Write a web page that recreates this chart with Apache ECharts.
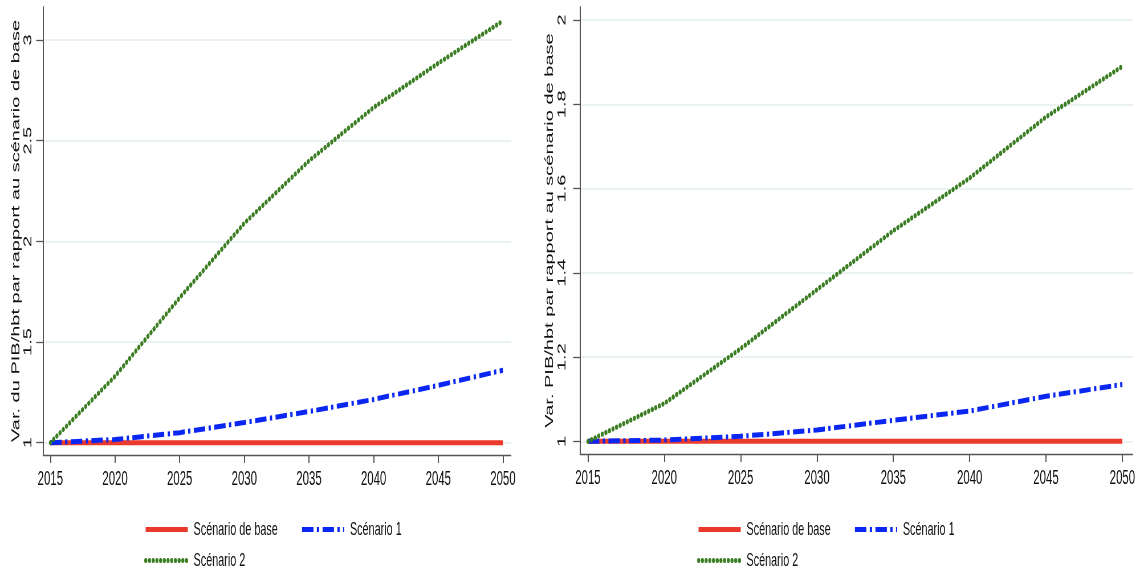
<!DOCTYPE html>
<html>
<head>
<meta charset="utf-8">
<title>PIB/hbt scénarios</title>
<script src="https://cdn.jsdelivr.net/npm/echarts@6/dist/echarts.min.js"></script>
<style>
    html, body {margin: 0; padding: 0; background: #fff; overflow: hidden;}
    /* la figure d'origine est compressée horizontalement */
    #main {width: 2000px; height: 567px; transform: scaleX(0.57); transform-origin: 0 0;}
</style>
</head>
<body>
<div id="main"></div>
<script>
// données
const years = [2015, 2020, 2025, 2030, 2035, 2040, 2045, 2050]
const xTicks = [2015, 2020, 2025, 2030, 2035, 2040, 2045, 2050]

// panneau gauche
const baseLeft = [1, 1, 1, 1, 1, 1, 1, 1]
const scen1Left = [1, 1.016, 1.05, 1.10, 1.155, 1.215, 1.285, 1.36]
const scen2Left = [1, 1.33, 1.72, 2.09, 2.40, 2.665, 2.885, 3.095]
const yTicksLeft = [1, 1.5, 2, 2.5, 3]

// panneau droit
const baseRight = [1, 1, 1, 1, 1, 1, 1, 1]
const scen1Right = [1, 1.003, 1.012, 1.027, 1.05, 1.072, 1.107, 1.135]
const scen2Right = [1, 1.09, 1.22, 1.36, 1.50, 1.625, 1.77, 1.89]
const yTicksRight = [1, 1.2, 1.4, 1.6, 1.8, 2]

const names = ['Scénario de base', 'Scénario 1', 'Scénario 2']
const font = 'Liberation Sans'

const pairs = (vals) => years.map((y, i) => [y, vals[i]])

const xAxisFor = (idx, min, max) => ({
    type: 'value', gridIndex: idx, min: min, max: max,
    axisLine: {show: true, lineStyle: {color: '#555', width: 1.3}},
    axisTick: {show: true, length: 8, customValues: xTicks, lineStyle: {color: '#555', width: 2}},
    axisLabel: {
        customValues: xTicks, margin: 14, fontSize: 20, color: '#111', fontFamily: font,
        formatter: (v) => String(v)
    },
    splitLine: {show: false}
})

const yAxisFor = (idx, min, max, ticks, name, gap, margin) => ({
    type: 'value', gridIndex: idx, min: min, max: max,
    name: name, nameLocation: 'middle', nameRotate: 90, nameGap: gap,
    nameTextStyle: {fontSize: 20, color: '#111', fontFamily: font},
    axisLine: {show: true, lineStyle: {color: '#555', width: 2}},
    axisTick: {show: true, length: 12, customValues: ticks, lineStyle: {color: '#555', width: 1.3}},
    axisLabel: {
        customValues: ticks, rotate: 90, margin: margin, fontSize: 20, color: '#111', fontFamily: font,
        formatter: (v) => String(v)
    },
    splitLine: {show: true, customValues: ticks, lineStyle: {color: '#e2ecec', width: 1.5}}
})

const seriesFor = (idx, base, s1, s2) => [
    {
        name: names[0], type: 'line', xAxisIndex: idx, yAxisIndex: idx, data: pairs(base),
        symbol: 'none', lineStyle: {color: '#ea3a2c', width: 5}, itemStyle: {color: '#ea3a2c'}
    },
    {
        name: names[1], type: 'line', xAxisIndex: idx, yAxisIndex: idx, data: pairs(s1),
        symbol: 'none', lineStyle: {color: '#0a26f2', width: 5, type: [20, 6, 4, 6]}, itemStyle: {color: '#0a26f2'}
    },
    {
        name: names[2], type: 'line', xAxisIndex: idx, yAxisIndex: idx, data: pairs(s2),
        symbol: 'none', lineStyle: {color: '#3a7d22', width: 5, type: [0.5, 6], cap: 'round'}, itemStyle: {color: '#3a7d22'}
    }
]

// légende : trait seul, sans pastille
const legendFor = (left, top, data) => ({
    left: left, top: top, data: data, itemWidth: 74, itemHeight: 20, itemGap: 40,
    itemStyle: {opacity: 0},
    lineStyle: {width: 5},
    textStyle: {fontSize: 19, color: '#111', fontFamily: font, padding: [0, 0, 0, 5]}
})

const chart = echarts.init(document.getElementById('main'))
const option = {
    animation: false,
    backgroundColor: '#fff',
    grid: [
        {left: 75.4, top: 7, width: 821, height: 448},
        {left: 1017.5, top: 7, width: 970, height: 447}
    ],
    xAxis: [xAxisFor(0, 2014.43, 2050.62), xAxisFor(1, 2014.48, 2050.69)],
    yAxis: [
        yAxisFor(0, 0.939, 3.164, yTicksLeft, 'Var. du PIB/hbt par rapport au scénario de base', 33, 16),
        yAxisFor(1, 0.970, 2.031, yTicksRight, 'Var. PIB/hbt par rapport au scénario de base', 43, 21)
    ],
    legend: [
        legendFor(248, 515, [names[0], names[1]]),
        legendFor(248, 546, [names[2]]),
        legendFor(1218, 515, [names[0], names[1]]),
        legendFor(1218, 546, [names[2]])
    ],
    series: [].concat(seriesFor(0, baseLeft, scen1Left, scen2Left), seriesFor(1, baseRight, scen1Right, scen2Right))
}
chart.setOption(option)
</script>
</body>
</html>
